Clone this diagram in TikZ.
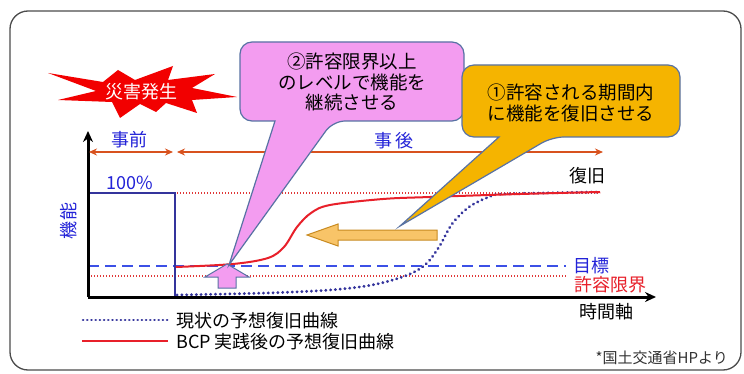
\documentclass[tikz,border=0pt]{standalone}
\usepackage{fontspec}
\setmainfont{Noto Sans CJK JP}
\usetikzlibrary{arrows.meta}
\definecolor{navy}{HTML}{34349C}
\definecolor{txtblue}{HTML}{2323D8}
\definecolor{dashblue}{HTML}{3C50E6}
\definecolor{cred}{HTML}{E8202A}
\definecolor{dotred}{HTML}{E03838}
\definecolor{arrorange}{HTML}{D8521E}
\definecolor{pinkfill}{HTML}{F39CF0}
\definecolor{goldfill}{HTML}{F5B400}
\definecolor{callborder}{HTML}{5872A4}
\definecolor{lorange}{HTML}{F8C468}
\definecolor{lorangeb}{HTML}{C88A20}
\tikzset{
  lbl/.style={inner sep=0pt, font=\fontsize{18}{20}\selectfont},
  calltext/.style={inner sep=0pt, align=center, font=\fontsize{18.5}{20.5}\selectfont},
  axisline/.style={line width=3pt, -{Stealth[length=11pt,width=10pt]}},
  periodarrow/.style={arrorange, line width=1.6pt, {Stealth[length=8pt,width=7pt]}-{Stealth[length=8pt,width=7pt]}},
  dotcurve/.style={navy, line width=3pt, line cap=round, dash pattern=on 0.2pt off 4.6pt},
  redcurve/.style={cred, line width=2pt},
  reddots/.style={dotred, line width=1.3pt, dash pattern=on 1.4pt off 1.6pt},
  bluedash/.style={dashblue, line width=1.7pt, dash pattern=on 11pt off 6pt},
}
\begin{document}
\begin{tikzpicture}[x=1pt,y=-1pt]
\useasboundingbox (0,0) rectangle (744,374);
\fill[white] (0,0) rectangle (744,374);
% frame
\draw[black!70, line width=1.3pt, rounded corners=18pt] (10,11) rectangle (741,370);

% explosion
\fill[red!95!black] (48,73) -- (103,82) -- (118,70) -- (135,80) -- (173,66) -- (168,80)
  -- (215,74) -- (192,88) -- (237,97) -- (192,100) -- (197,113) -- (166,103)
  -- (156,112) -- (140,104) -- (120,118) -- (112,102) -- (58,100) -- (96,91) -- cycle;
\node[lbl, text=white] (disaster) at (141,92) {災害発生};

% reference lines
\coordinate (yaxisbot) at (88,297);
\coordinate (yaxistop) at (88,131);
\coordinate (xaxisend) at (656,297);
\coordinate (dashL) at (88,266);
\coordinate (dashR) at (566,266);
\coordinate (lowL) at (88,276);
\coordinate (lowR) at (566,276);
\coordinate (upL) at (177,193);
\coordinate (upR) at (600,193);
\draw[reddots] (upL) -- (upR);
\draw[bluedash] (dashL) -- (dashR);
\draw[reddots] (lowL) -- (lowR);

% 100% box
\coordinate (boxTL) at (88,193);
\coordinate (boxTR) at (175,193);
\coordinate (boxBR) at (175,297);
\draw[navy, line width=2pt] (boxTL) -- (boxTR) -- (boxBR);

% curves
\draw[dotcurve] plot[smooth, tension=0.55] coordinates {(177,295) (267,293) (330,290) (372,285) (405,276) (425,265) (439,247) (452,224) (469,207) (489,197) (505,194) (600,192)};
\draw[redcurve] plot[smooth, tension=0.55] coordinates {(176,267) (233,264) (268,258) (284,247) (297,227) (311,213) (330,205) (383,199) (430,197) (520,194) (600,192)};

% axes
\draw[axisline] (yaxisbot) -- (yaxistop);
\draw[axisline] (yaxisbot) -- (xaxisend);

% period arrows
\coordinate (preL) at (89,152);
\coordinate (preR) at (173,152);
\coordinate (postL) at (177,152);
\coordinate (postR) at (603,152);
\draw[periodarrow] (preL) -- (preR);
\draw[periodarrow] (postL) -- (postR);
\node[lbl, text=txtblue] (pre) at (129,140) {事前};
\node[lbl, text=txtblue] (post) at (394,141) {事\,後};

% labels
\node[lbl, text=txtblue] (hundred) at (130,183) {100\%};
\node[lbl, text=txtblue, rotate=90] (func) at (69,221) {機能};
\node[lbl, text=black] (recover) at (587,176) {復旧};
\node[lbl, text=txtblue] (target) at (591,266) {目標};
\node[lbl, text=cred] (limit) at (610,285) {許容限界};
\node[lbl, text=black] (timeax) at (606,312) {時間軸};

% block arrows
\draw[callborder, fill=pinkfill, line width=1pt] (218,288) -- (236,288) -- (236,277) -- (249,277)
  -- (227,264) -- (205,277) -- (218,277) -- cycle;
\draw[lorangeb, fill=lorange, line width=1pt] (437,230) -- (338,230) -- (338,224) -- (307,235)
  -- (338,246) -- (338,240) -- (437,240) -- cycle;

% pink callout
\draw[callborder, fill=pinkfill, line width=1.2pt] (275,121) [rounded corners=12pt] -- (240,121) -- (240,42)
  -- (464,42) -- (464,121) -- (333,121) [sharp corners] -- (229,265) -- cycle;
\node[calltext] (call2) at (352,82) {②許容限界以上\\のレベルで機能を\\継続させる};

% gold callout
\draw[callborder, fill=goldfill, line width=1.2pt] (499,137) [rounded corners=12pt] -- (462,137) -- (462,65)
  -- (680,65) -- (680,137) -- (552,137) [sharp corners] -- (400,226) -- cycle;
\node[calltext] (call1) at (571,103) {①許容される期間内\\に機能を復旧させる};

% legend
\coordinate (lg1a) at (83,320);
\coordinate (lg1b) at (168,320);
\coordinate (lg2a) at (82,341);
\coordinate (lg2b) at (168,341);
\draw[dotcurve, line width=2.6pt, dash pattern=on 0.2pt off 4pt] (lg1a) -- (lg1b);
\draw[redcurve] (lg2a) -- (lg2b);
\node[lbl, anchor=west] (leg1) at (176,321) {現状の予想復旧曲線};
\node[lbl, anchor=west] (leg2) at (176,342) {BCP 実践後の予想復旧曲線};

\node[inner sep=0pt, anchor=east, font=\fontsize{15}{17}\selectfont, text=black!80] (credit) at (728,358) {*国土交通省HPより};
\end{tikzpicture}
\end{document}
